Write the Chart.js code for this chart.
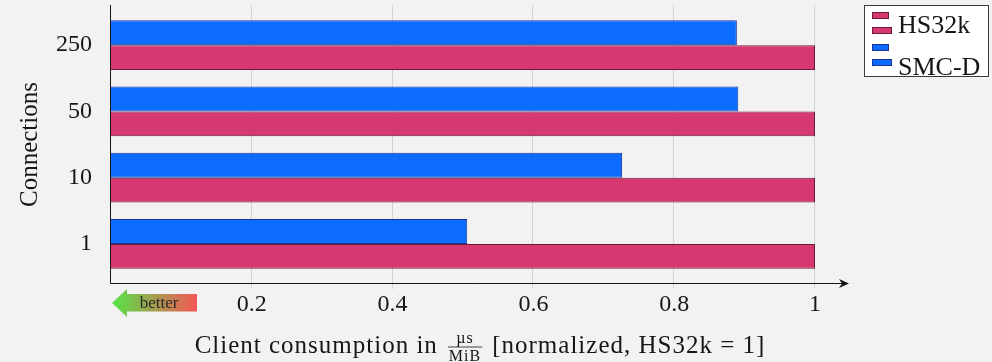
<!DOCTYPE html>
<html>
<head>
<meta charset="utf-8">
<title>Client consumption</title>
<script src="https://cdn.jsdelivr.net/npm/chart.js@4.4.1/dist/chart.umd.min.js"></script>
<style>
  html, body { margin: 0; padding: 0; background: #f2f2f2; }
  #wrap { width: 992px; height: 362px; }
</style>
</head>
<body>
<div id="wrap"><canvas id="myChart" width="992" height="362"></canvas></div>
<script>
'use strict';

// data
let connections = ['250', '50', '10', '1'];
let hs32kValues = [1, 1, 1, 1];
let smcdValues = [0.889, 0.891, 0.726, 0.506];
let xTicks = [0.2, 0.4, 0.6, 0.8, 1];

let serif = '"Liberation Serif", "Times New Roman", serif';
let pinkFill = 'rgb(214, 57, 114)';
let pinkBorder = 'rgb(110, 25, 58)';
let blueFill = 'rgb(12, 108, 255)';
let blueBorder = 'rgb(28, 52, 150)';
let inkColor = '#161616';

// legend symbol: two stacked little bars
function drawLegendSymbol(ctx, x, y, fill, border) {
  ctx.fillStyle = fill;
  ctx.strokeStyle = border;
  ctx.lineWidth = 1;
  ctx.fillRect(x, y, 17, 6);
  ctx.strokeRect(x + 0.5, y + 0.5, 16, 6);
  ctx.fillRect(x, y + 15, 20, 7);
  ctx.strokeRect(x + 0.5, y + 15.5, 19, 6);
}

let decorPlugin = {
  id: 'decor',
  beforeDatasetsDraw(chart) {
    let ctx = chart.ctx;
    let area = chart.chartArea;
    let xScale = chart.scales.x;
    ctx.save();
    ctx.strokeStyle = 'rgba(0, 0, 0, 0.13)';
    ctx.lineWidth = 1;
    for (let i = 0; i < xTicks.length; i++) {
      let px = Math.round(xScale.getPixelForValue(xTicks[i])) - 0.5;
      ctx.beginPath();
      ctx.moveTo(px, area.top - 7);
      ctx.lineTo(px, area.bottom + 12);
      ctx.stroke();
    }
    ctx.restore();
  },
  afterDatasetsDraw(chart) {
    let ctx = chart.ctx;
    let area = chart.chartArea;
    let axisY = area.bottom + 6.5;
    let axisX = area.left - 0.5;
    ctx.save();
    ctx.strokeStyle = inkColor;
    ctx.fillStyle = inkColor;
    ctx.lineWidth = 1;
    // y axis
    ctx.beginPath();
    ctx.moveTo(axisX, area.top - 7);
    ctx.lineTo(axisX, axisY);
    ctx.stroke();
    // x axis with arrow
    ctx.beginPath();
    ctx.moveTo(axisX, axisY);
    ctx.lineTo(area.right + 30, axisY);
    ctx.stroke();
    let tip = area.right + 34;
    ctx.beginPath();
    ctx.moveTo(tip, axisY);
    ctx.lineTo(tip - 10, axisY - 4.5);
    ctx.lineTo(tip - 7, axisY);
    ctx.lineTo(tip - 10, axisY + 4.5);
    ctx.closePath();
    ctx.fill();
    ctx.restore();
  },
  afterDraw(chart) {
    let ctx = chart.ctx;
    let area = chart.chartArea;
    ctx.save();

    // "better" arrow
    let ay = area.bottom + 26;
    let grad = ctx.createLinearGradient(area.left + 1, 0, area.left + 86, 0);
    grad.addColorStop(0, 'rgb(85, 228, 72)');
    grad.addColorStop(1, 'rgb(246, 86, 86)');
    ctx.fillStyle = grad;
    ctx.beginPath();
    ctx.moveTo(area.left + 1, ay);
    ctx.lineTo(area.left + 16, ay - 14);
    ctx.lineTo(area.left + 16, ay - 9);
    ctx.lineTo(area.left + 86, ay - 9);
    ctx.lineTo(area.left + 86, ay + 8.5);
    ctx.lineTo(area.left + 16, ay + 8.5);
    ctx.lineTo(area.left + 16, ay + 14);
    ctx.closePath();
    ctx.fill();
    ctx.fillStyle = '#2a2a2a';
    ctx.font = '17px ' + serif;
    ctx.textAlign = 'center';
    ctx.textBaseline = 'alphabetic';
    ctx.fillText('better', area.left + 48, ay + 5);

    // x axis title with the fraction
    let part1 = 'Client consumption in';
    let part3 = '[normalized, HS32k = 1]';
    let bigFont = '25px ' + serif;
    let smallFont = '16px ' + serif;
    ctx.letterSpacing = '1px';
    ctx.font = bigFont;
    let w1 = ctx.measureText(part1).width;
    let w3 = ctx.measureText(part3).width;
    ctx.font = smallFont;
    let wf = Math.max(ctx.measureText('µs').width, ctx.measureText('MiB').width) + 2;
    let gap = 10;
    let total = w1 + gap + wf + gap + w3;
    let centerX = (area.left + area.right + 34) / 2;
    let sx = centerX - total / 2;
    let base = 353;
    ctx.fillStyle = inkColor;
    ctx.textAlign = 'left';
    ctx.font = bigFont;
    ctx.fillText(part1, sx, base);
    let fx = sx + w1 + gap;
    ctx.font = smallFont;
    ctx.fillText('µs', fx + (wf - ctx.measureText('µs').width) / 2, 343);
    ctx.fillText('MiB', fx + (wf - ctx.measureText('MiB').width) / 2, 361);
    ctx.strokeStyle = inkColor;
    ctx.lineWidth = 0.8;
    ctx.beginPath();
    ctx.moveTo(fx, 347);
    ctx.lineTo(fx + wf, 347);
    ctx.stroke();
    ctx.font = bigFont;
    ctx.fillText(part3, fx + wf + gap, base);
    ctx.letterSpacing = '0px';

    // legend box
    ctx.fillStyle = '#ffffff';
    ctx.fillRect(864, 5, 125, 72);
    ctx.strokeStyle = '#3a3a3a';
    ctx.lineWidth = 1;
    ctx.strokeRect(864.5, 5.5, 124, 71);
    drawLegendSymbol(ctx, 872, 12, pinkFill, pinkBorder);
    drawLegendSymbol(ctx, 872, 44, blueFill, blueBorder);
    ctx.fillStyle = inkColor;
    ctx.font = '26px ' + serif;
    ctx.textAlign = 'left';
    ctx.fillText(chart.data.datasets[1].label, 898, 33);
    ctx.fillText(chart.data.datasets[0].label, 898, 75);

    ctx.restore();
  }
};

let ctx = document.getElementById('myChart');

new Chart(ctx, {
  type: 'bar',
  data: {
    labels: connections,
    datasets: [
      {
        label: 'SMC-D',
        data: smcdValues,
        backgroundColor: blueFill,
        borderColor: blueBorder,
        borderWidth: 1,
      },
      {
        label: 'HS32k',
        data: hs32kValues,
        backgroundColor: pinkFill,
        borderColor: pinkBorder,
        borderWidth: 1,
      },
    ],
  },
  options: {
    indexAxis: 'y',
    responsive: false,
    animation: false,
    devicePixelRatio: 1,
    categoryPercentage: 0.754,
    barPercentage: 1,
    layout: {
      padding: { top: 12, right: 177, left: 0, bottom: 0 },
    },
    plugins: {
      legend: { display: false },
      tooltip: { enabled: false },
    },
    scales: {
      x: {
        min: 0,
        max: 1,
        grid: { display: false, drawTicks: false },
        border: { display: false },
        ticks: {
          font: { family: serif, size: 24 },
          color: inkColor,
          padding: 13,
          callback: function(value) {
            return String(Number(value.toFixed(2)));
          },
        },
        afterBuildTicks: function(scale) {
          scale.ticks = xTicks.map(function(v) { return { value: v }; });
        },
        afterFit: function(scale) {
          scale.height = 85;
          scale.paddingLeft = 0;
          scale.paddingRight = 0;
        },
      },
      y: {
        grid: { display: false, drawTicks: false },
        border: { display: false },
        ticks: {
          font: { family: serif, size: 24 },
          color: inkColor,
          padding: 19,
        },
        title: {
          display: true,
          text: 'Connections',
          font: { family: serif, size: 25 },
          color: inkColor,
          padding: { top: 15, bottom: 0 },
        },
        afterFit: function(scale) {
          scale.width = 111;
          scale.paddingTop = 0;
          scale.paddingBottom = 0;
        },
      },
    },
  },
  plugins: [decorPlugin],
});
</script>
</body>
</html>
